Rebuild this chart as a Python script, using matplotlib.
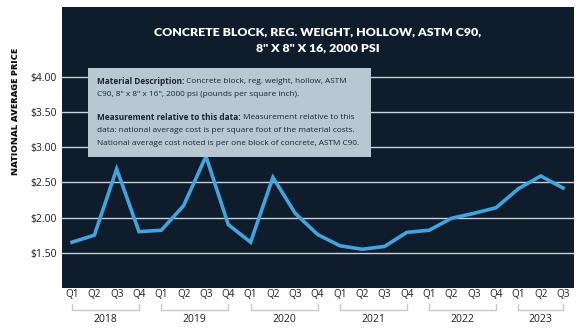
import matplotlib
matplotlib.use("Agg")
import matplotlib.pyplot as plt
from matplotlib.patches import Rectangle
from matplotlib.transforms import blended_transform_factory

# quarterly national average price, Q1 2018 .. Q3 2023
quarters = ["Q1", "Q2", "Q3", "Q4"] * 5 + ["Q1", "Q2", "Q3"]
years = ["2018", "2019", "2020", "2021", "2022", "2023"]
prices = [1.65, 1.75, 2.69, 1.80, 1.82, 2.17, 2.87, 1.90,
          1.65, 2.57, 2.06, 1.76, 1.60, 1.55, 1.59, 1.79,
          1.82, 1.99, 2.06, 2.14, 2.41, 2.59, 2.42]
yticks = [1.5, 2.0, 2.5, 3.0, 3.5, 4.0]

title = "CONCRETE BLOCK, REG. WEIGHT, HOLLOW, ASTM C90,\n8\" X 8\" X 16, 2000 PSI"
note = [
    ("Material Description:", " Concrete block, reg. weight, hollow, ASTM"),
    ("", "C90, 8\" x 8\" x 16\", 2000 psi (pounds per square inch)."),
    ("Measurement relative to this data:", " Measurement relative to this"),
    ("", "data: national average cost is per square foot of the material costs."),
    ("", "National average cost noted is per one block of concrete, ASTM C90."),
]

PANEL = "#0e1c2b"
LINE = "#43a3dc"
GRID = "#c9d2da"
TEXT = "#1e1e1e"

W, H = 581, 331
fig = plt.figure(figsize=(W / 100, H / 100), dpi=100)
fig.patch.set_facecolor("white")

# panel in pixels: x 62..574, y 7..288 (from top)
left, right, top, bottom = 62, 574, 7, 288
ax = fig.add_axes([left / W, 1 - bottom / H, (right - left) / W, (bottom - top) / H])
ax.set_facecolor(PANEL)
for s in ax.spines.values():
    s.set_visible(False)

x = list(range(len(prices)))
ax.set_xlim(-0.45, 22.49)
ax.set_ylim(1.0, 4.99)

for v in yticks:
    ax.axhline(v, color=GRID, lw=1.0, zorder=1)
ax.plot(x, prices, color=LINE, lw=2.6, solid_joinstyle="miter", zorder=3)

ax.set_yticks(yticks)
ax.set_yticklabels([f"${v:.2f}" for v in yticks], fontsize=7.5, color=TEXT,
                   family="Open Sans")
ax.tick_params(axis="y", length=0, pad=4)
ax.set_xticks([])

ax.text(-0.091, 0.627, "NATIONAL AVERAGE PRICE", transform=ax.transAxes,
        rotation=90, ha="center", va="center", fontsize=6.8, fontweight="heavy",
        color="#111111", family="Open Sans")

# quarter labels, year brackets and year labels under the axis
tr = blended_transform_factory(ax.transData, ax.transAxes)
for i, q in enumerate(quarters):
    ax.text(i, -0.022, q, transform=tr, ha="center", va="center", fontsize=7.2,
            color=TEXT, family="Open Sans", clip_on=False)
for k, yr in enumerate(years):
    a = k * 4
    b = min(a + 3, len(prices) - 1)
    ax.plot([a, a, b, b], [-0.058, -0.078, -0.078, -0.058], transform=tr,
            color="#c8c8c8", lw=1.0, clip_on=False)
    ax.text((a + b) / 2, -0.112, yr, transform=tr, ha="center", va="center",
            fontsize=7.5, color=TEXT, family="Open Sans", clip_on=False)

ax.text(0.5, 1 - (40 - top) / (bottom - top), title, transform=ax.transAxes,
        ha="center", va="center", fontsize=8.9, fontweight="heavy",
        color="white", family="Lato", linespacing=1.6)

# description box
bx0, bx1, by0, by1 = 88, 371, 68, 157
box = Rectangle(((bx0 - left) / (right - left), (bottom - by1) / (bottom - top)),
                (bx1 - bx0) / (right - left), (by1 - by0) / (bottom - top),
                transform=ax.transAxes, facecolor="#b9c7d2", edgecolor="none",
                zorder=4)
ax.add_patch(box)

fig.canvas.draw()
renderer = fig.canvas.get_renderer()
line_y = [82, 95, 117, 130, 144]
for (bold, rest), py in zip(note, line_y):
    xx = 97
    yy = 1 - py / H
    if bold:
        t = fig.text(xx / W, yy, bold, ha="left", va="center", fontsize=5.95,
                     fontweight="bold", color="#1b2430", family="Open Sans",
                     zorder=5)
        xx = t.get_window_extent(renderer).x1
    fig.text(xx / W, yy, rest, ha="left", va="center", fontsize=5.95,
             color="#1b2430", family="Open Sans", zorder=5)

fig.savefig("out.png", dpi=100, facecolor=fig.get_facecolor())
